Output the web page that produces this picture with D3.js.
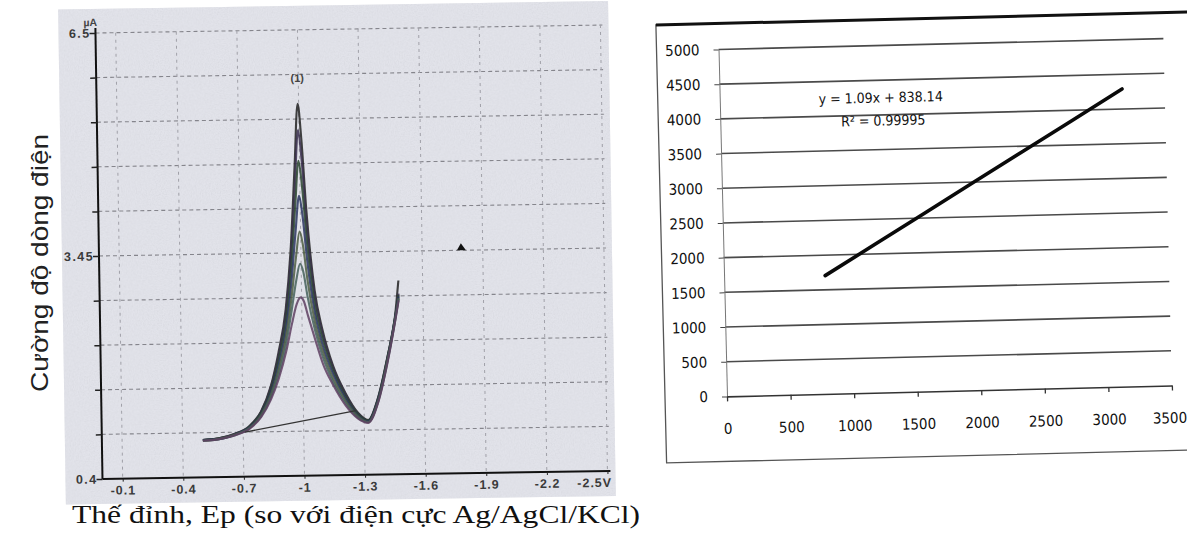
<!DOCTYPE html>
<html>
<head>
<meta charset="utf-8">
<script src="https://cdn.jsdelivr.net/npm/d3@7"></script>
<style>
  body { margin: 0; background: #fff; }
  svg { display: block; }
</style>
</head>
<body>
<script>
// ---- left panel : voltammograms ----
const potential = [-0.50, -0.58, -0.66, -0.73, -0.79, -0.84, -0.88, -0.92, -0.95, -0.975, -0.995, -1.01,
                   -1.03, -1.065, -1.10, -1.15, -1.21, -1.27, -1.32, -1.37, -1.42, -1.46, -1.48];
const current1 = [0.91, 0.93, 0.99, 1.09, 1.29, 1.63, 2.08, 2.68, 3.53, 4.63, 5.49, 5.03, 4.03, 2.93, 2.40, 1.90, 1.52, 1.25, 1.15, 1.45, 2.01, 2.55, 3.05];
const current2 = [0.91, 0.93, 0.99, 1.08, 1.28, 1.61, 2.03, 2.60, 3.39, 4.37, 5.13, 4.73, 3.83, 2.84, 2.34, 1.87, 1.50, 1.24, 1.14, 1.44, 2.00, 2.54, 2.87];
const current3 = [0.91, 0.93, 0.98, 1.08, 1.27, 1.58, 1.98, 2.51, 3.22, 4.08, 4.71, 4.37, 3.61, 2.73, 2.27, 1.83, 1.47, 1.23, 1.14, 1.43, 1.99, 2.53, 2.85];
const current4 = [0.91, 0.92, 0.98, 1.07, 1.25, 1.54, 1.91, 2.41, 3.03, 3.74, 4.23, 3.97, 3.35, 2.61, 2.18, 1.78, 1.44, 1.21, 1.13, 1.42, 1.97, 2.52, 2.83];
const current5 = [0.90, 0.92, 0.98, 1.06, 1.24, 1.51, 1.85, 2.31, 2.84, 3.39, 3.74, 3.56, 3.08, 2.48, 2.10, 1.72, 1.41, 1.20, 1.12, 1.40, 1.96, 2.50, 2.81];
const current6 = [0.90, 0.92, 0.97, 1.06, 1.22, 1.48, 1.79, 2.21, 2.67, 3.08, 3.30, 3.19, 2.84, 2.37, 2.02, 1.67, 1.38, 1.18, 1.12, 1.39, 1.94, 2.49, 2.80];
const current7 = [0.90, 0.92, 0.97, 1.05, 1.21, 1.45, 1.73, 2.11, 2.48, 2.75, 2.84, 2.79, 2.59, 2.25, 1.93, 1.63, 1.35, 1.17, 1.11, 1.38, 1.93, 2.48, 2.78];
const baselineE = [-0.71, -1.26];
const baselineI = [1.01, 1.28];
const potTicks = [-0.1, -0.4, -0.7, -1, -1.3, -1.6, -1.9, -2.2, -2.5];
const potLabels = ["-0.1", "-0.4", "-0.7", "-1", "-1.3", "-1.6", "-1.9", "-2.2", "-2.5V"];
const curGrid = [0.4, 1.01, 1.62, 2.23, 2.84, 3.45, 4.06, 4.67, 5.28, 5.89, 6.5];
const curLabels = [0.4, 3.45, 6.5];

// ---- right panel : calibration ----
const concX = [795, 1190, 1585, 1980, 2375, 2770, 3165];
const signalY = [1705, 2135, 2566, 2997, 3428, 3857, 4289];
const calXTicks = [0, 500, 1000, 1500, 2000, 2500, 3000, 3500];
const calYTicks = [0, 500, 1000, 1500, 2000, 2500, 3000, 3500, 4000, 4500, 5000];

const svg = d3.select("body").append("svg")
  .attr("width", 1187).attr("height", 533);

// scan grain
const defs = svg.append("defs");
const f = defs.append("filter").attr("id", "grain").attr("x", 0).attr("y", 0).attr("width", 1).attr("height", 1);
f.append("feTurbulence").attr("type", "fractalNoise").attr("baseFrequency", 0.8).attr("numOctaves", 2).attr("seed", 4);
f.append("feColorMatrix").attr("type", "matrix")
  .attr("values", "0 0 0 0 0.55  0 0 0 0 0.56  0 0 0 0 0.6  0 0 0 -1.2 0.75");

// ================= LEFT =================
const gL = svg.append("g").attr("transform", "rotate(-0.9,352,255)");

gL.append("rect").attr("x", 62).attr("y", 5).attr("width", 550).attr("height", 495).attr("fill", "#e2e3ea");
gL.append("rect").attr("x", 62).attr("y", 5).attr("width", 550).attr("height", 495)
  .attr("filter", "url(#grain)").attr("opacity", 0.5);

const xL = d3.scaleLinear().domain([0, -2.5]).range([99, 604]);
const yL = d3.scaleLinear().domain([0.4, 6.5]).range([475, 29]);

// dashed grid
gL.append("g").selectAll("line").data(curGrid.slice(1)).join("line")
  .attr("x1", 99).attr("x2", 606)
  .attr("y1", d => yL(d)).attr("y2", d => yL(d))
  .attr("stroke", "#85858c").attr("stroke-width", 1.1).attr("stroke-dasharray", "4,3");
gL.append("g").selectAll("line").data(potTicks).join("line")
  .attr("x1", d => xL(d)).attr("x2", d => xL(d))
  .attr("y1", 29).attr("y2", 475)
  .attr("stroke", "#a0a0a8").attr("stroke-width", 1).attr("stroke-dasharray", "3,4");

// axes
const yAxisL = d3.axisLeft(yL).tickValues(curGrid).tickSize(6).tickSizeOuter(0)
  .tickFormat(d => curLabels.includes(d) ? String(d) : "");
const gyL = gL.append("g").attr("transform", "translate(99,0)").call(yAxisL);
gyL.select(".domain").attr("stroke", "#111").attr("stroke-width", 2).attr("d", "M0,24V475");
gyL.selectAll(".tick line").attr("stroke", "#222").attr("stroke-width", 1.5);
gyL.selectAll(".tick text").attr("font-family", "Liberation Sans, Arial, sans-serif")
  .attr("font-weight", "bold").attr("font-size", 12.5).attr("fill", "#3a3a3a")
  .attr("letter-spacing", 1.4).attr("x", -5);

const xAxisL = d3.axisBottom(xL).tickValues(potTicks).tickSize(3).tickSizeOuter(0)
  .tickFormat((d, i) => potLabels[i]);
const gxL = gL.append("g").attr("transform", "translate(0,475)").call(xAxisL);
gxL.select(".domain").attr("stroke", "#111").attr("stroke-width", 2).attr("d", "M99,0H607");
gxL.selectAll(".tick line").attr("stroke", "#222");
gxL.selectAll(".tick text").attr("font-family", "Liberation Sans, Arial, sans-serif")
  .attr("font-weight", "bold").attr("font-size", 12.5).attr("fill", "#3a3a3a")
  .attr("letter-spacing", 1).attr("y", 7);
gxL.selectAll(".tick text").filter((d, i) => i === potTicks.length - 1)
  .attr("text-anchor", "end").attr("dx", 4);

gL.append("text").attr("x", 94).attr("y", 22).attr("text-anchor", "middle")
  .attr("font-family", "Liberation Sans, Arial, sans-serif").attr("font-weight", "bold")
  .attr("font-size", 10.5).attr("fill", "#444").text("µA");

// curves
const curves = [current1, current2, current3, current4, current5, current6, current7];
const colors = ["#222222", "#3a2f4e", "#2b4530", "#2a3560", "#4d5d42", "#45605a", "#5e3f62"];
const line = d3.line().x(d => xL(d[0])).y(d => yL(d[1])).curve(d3.curveMonotoneX);
gL.append("g").selectAll("path").data(curves).join("path")
  .attr("d", c => line(potential.map((e, i) => [e, c[i]])))
  .attr("fill", "none")
  .attr("stroke", (c, i) => colors[i])
  .attr("stroke-width", 2.1)
  .attr("stroke-opacity", 0.85);

gL.append("path")
  .attr("d", d3.line().x(d => xL(d[0])).y(d => yL(d[1]))(baselineE.map((e, i) => [e, baselineI[i]])))
  .attr("stroke", "#333").attr("stroke-width", 1.3).attr("fill", "none");

gL.append("text").attr("x", xL(-0.995)).attr("y", 81).attr("text-anchor", "middle")
  .attr("font-family", "Liberation Sans, Arial, sans-serif").attr("font-size", 11)
  .attr("font-weight", "bold").attr("fill", "#444").text("(1)");

// small scan speck
gL.append("path").attr("d", "M457,252 L461,245 L466,252 Z").attr("fill", "#111");

// outer labels
svg.append("text")
  .attr("transform", "translate(48,263) rotate(-90)")
  .attr("text-anchor", "middle")
  .attr("font-family", "Liberation Sans, Arial, sans-serif")
  .attr("font-size", 24).attr("fill", "#222")
  .attr("textLength", 258).attr("lengthAdjust", "spacingAndGlyphs")
  .text("Cường độ dòng điện");

svg.append("text")
  .attr("x", 72).attr("y", 523)
  .attr("font-family", "Liberation Serif, Times New Roman, serif")
  .attr("font-size", 26).attr("fill", "#111")
  .attr("textLength", 568).attr("lengthAdjust", "spacingAndGlyphs")
  .text("Thế đỉnh, Ep (so với điện cực Ag/AgCl/KCl)");

// ================= RIGHT =================
const gR = svg.append("g").attr("transform", "rotate(-1.4,945,230)");
const narrow = "Liberation Sans Narrow, DejaVu Sans Condensed, Arial Narrow, sans-serif";

gR.append("rect").attr("x", 661).attr("y", 18).attr("width", 560).attr("height", 438)
  .attr("fill", "#fff").attr("stroke", "#555").attr("stroke-width", 1.3);
gR.append("line").attr("x1", 661).attr("x2", 1225).attr("y1", 18).attr("y2", 18)
  .attr("stroke", "#111").attr("stroke-width", 3);

const xR = d3.scaleLinear().domain([0, 3500]).range([723, 1168]);
const yR = d3.scaleLinear().domain([0, 5000]).range([391, 44]);

gR.append("g").selectAll("line").data(calYTicks.slice(1)).join("line")
  .attr("x1", 723).attr("x2", 1168)
  .attr("y1", d => yR(d)).attr("y2", d => yR(d))
  .attr("stroke", "#4a4a4a").attr("stroke-width", 1.6);

const gyR = gR.append("g").attr("transform", "translate(723,0)")
  .call(d3.axisLeft(yR).tickValues(calYTicks).tickSize(5).tickPadding(14).tickSizeOuter(0).tickFormat(d3.format("d")));
gyR.select(".domain").attr("stroke", "#777").attr("stroke-width", 1);
gyR.selectAll(".tick line").attr("stroke", "#444");
gyR.selectAll(".tick text").attr("font-family", narrow).attr("font-size", 15).attr("fill", "#111");

const gxR = gR.append("g").attr("transform", "translate(0,391)")
  .call(d3.axisBottom(xR).tickValues(calXTicks).tickSize(5).tickPadding(22).tickSizeOuter(0).tickFormat(d3.format("d")));
gxR.select(".domain").attr("stroke", "#333").attr("stroke-width", 1.6);
gxR.selectAll(".tick line").attr("stroke", "#333").attr("stroke-width", 1.3);
gxR.selectAll(".tick text").attr("font-family", narrow).attr("font-size", 15).attr("fill", "#111");
gxR.selectAll(".tick text").filter(d => d === 3500).attr("text-anchor", "end").attr("dx", 14);

gR.append("path")
  .attr("d", d3.line().x(d => xR(d[0])).y(d => yR(d[1]))(concX.map((c, i) => [c, signalY[i]])))
  .attr("fill", "none").attr("stroke", "#0a0a0a").attr("stroke-width", 3.6).attr("stroke-linecap", "round");

gR.append("text").attr("x", 884).attr("y", 101).attr("text-anchor", "middle")
  .attr("font-family", narrow).attr("font-size", 14).attr("fill", "#111")
  .text("y = 1.09x + 838.14");
gR.append("text").attr("x", 886).attr("y", 124).attr("text-anchor", "middle")
  .attr("font-family", narrow).attr("font-size", 14).attr("fill", "#111")
  .text("R² = 0.99995");
</script>
</body>
</html>
